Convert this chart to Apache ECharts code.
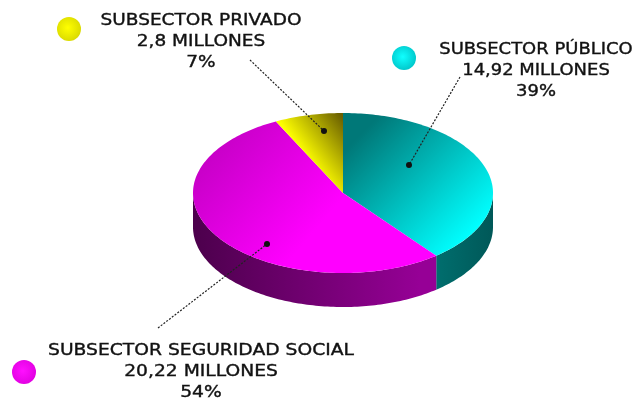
<!DOCTYPE html>
<html>
<head>
<meta charset="utf-8">
<style>html,body{margin:0;padding:0;background:#fff}#chart{width:634px;height:403px}</style>
<script src="https://cdn.jsdelivr.net/npm/echarts@6/dist/echarts.min.js"></script>
</head>
<body>
<div id="chart"></div>
<script>
// Health-sector spending by subsector, in millions
const categories = ['SUBSECTOR PÚBLICO', 'SUBSECTOR SEGURIDAD SOCIAL', 'SUBSECTOR PRIVADO'];
const values = [14.92, 20.22, 2.8];
const valueLabels = ['14,92 MILLONES', '20,22 MILLONES', '2,8 MILLONES'];
const percentLabels = ['39%', '54%', '7%'];

const CX = 343, CY = 193, RX = 150, RY = 80, DEPTH = 34;
const TAU = Math.PI * 2;
const total = values.reduce((a, b) => a + b, 0);

const grad = (x, y, x2, y2, c0, c1) =>
  new echarts.graphic.LinearGradient(x, y, x2, y2, [{offset: 0, color: c0}, {offset: 1, color: c1}], true);

const topFill = [
  grad(365, 130, 470, 235, '#007878', '#00ffff'),
  grad(215, 135, 320, 225, '#c400c4', '#ff00ff'),
  grad(343, 118, 300, 150, '#6b6000', '#ffff00')
];
const sideFill = [
  grad(436, 0, 493, 0, '#006e6e', '#005858'),
  grad(193, 0, 420, 0, '#4c004c', '#960096'),
  '#000'
];

// Point on the tilted rim; angle runs clockwise from twelve o'clock
const rim = (a, dy) => [CX + RX * Math.sin(a), CY - RY * Math.cos(a) + dy];

function arcPoints(a0, a1, dy) {
  const n = Math.max(2, Math.ceil((a1 - a0) / 0.02));
  const pts = [];
  for (let i = 0; i <= n; i++) pts.push(rim(a0 + (a1 - a0) * i / n, dy));
  return pts;
}

function renderSlice(params, api) {
  const i = params.dataIndex;
  let start = 0;
  for (let k = 0; k < i; k++) start += values[k] / total * TAU;
  const end = start + api.value(0) / total * TAU;
  const children = [];

  // Only the front half of the rim wall is visible
  const s0 = Math.max(start, Math.PI / 2), s1 = Math.min(end, Math.PI * 1.5);
  if (s1 > s0) {
    const wall = arcPoints(s0, s1, 0).concat(arcPoints(s0, s1, DEPTH).reverse());
    children.push({type: 'polygon', shape: {points: wall}, style: {fill: sideFill[i]}});
  }
  const face = [[CX, CY]].concat(arcPoints(start, end, 0));
  children.push({type: 'polygon', shape: {points: face}, style: {fill: topFill[i]}});
  return {type: 'group', children};
}

// Three-line caption, stretched horizontally to give wide hand-lettered capitals
function caption(i, x, y, stretch) {
  return {
    type: 'text', x, y, scaleX: stretch,
    style: {
      text: [categories[i], valueLabels[i], percentLabels[i]].join('\n'),
      font: '15px "DejaVu Sans"',
      lineHeight: 21,
      fill: '#111',
      stroke: '#111',
      lineWidth: 0.35,
      align: 'center',
      verticalAlign: 'middle'
    }
  };
}

function swatch(x, y, c0, c1) {
  return {
    type: 'circle', shape: {cx: x, cy: y, r: 12},
    style: {fill: new echarts.graphic.RadialGradient(0.45, 0.45, 0.6, [{offset: 0, color: c0}, {offset: 1, color: c1}])}
  };
}

function leader(x1, y1, x2, y2) {
  return [
    {type: 'line', shape: {x1, y1, x2, y2}, z: 10, style: {stroke: '#222', lineWidth: 1.2, lineDash: [2, 1.5]}},
    {type: 'circle', shape: {cx: x2, cy: y2, r: 3}, z: 10, style: {fill: '#111'}}
  ];
}

const chart = echarts.init(document.getElementById('chart'), null, {renderer: 'canvas'});
chart.setOption({
  animation: false,
  backgroundColor: '#fff',
  series: [{
    type: 'custom',
    coordinateSystem: 'none',
    renderItem: renderSlice,
    data: values.map((v, i) => ({name: categories[i], value: [v]}))
  }],
  graphic: {elements: [
    swatch(69, 29, '#ffff00', '#d8d800'),
    swatch(404, 58, '#10ffff', '#00c4c8'),
    swatch(24, 372, '#ff10ff', '#e000e0'),
    caption(2, 201, 42, 1.233),
    caption(0, 536, 71, 1.197),
    caption(1, 201, 372, 1.247),
    ...leader(250, 60, 324, 131),
    ...leader(460, 77, 409, 165),
    ...leader(158, 328, 267, 244)
  ]}
});
</script>
</body>
</html>
